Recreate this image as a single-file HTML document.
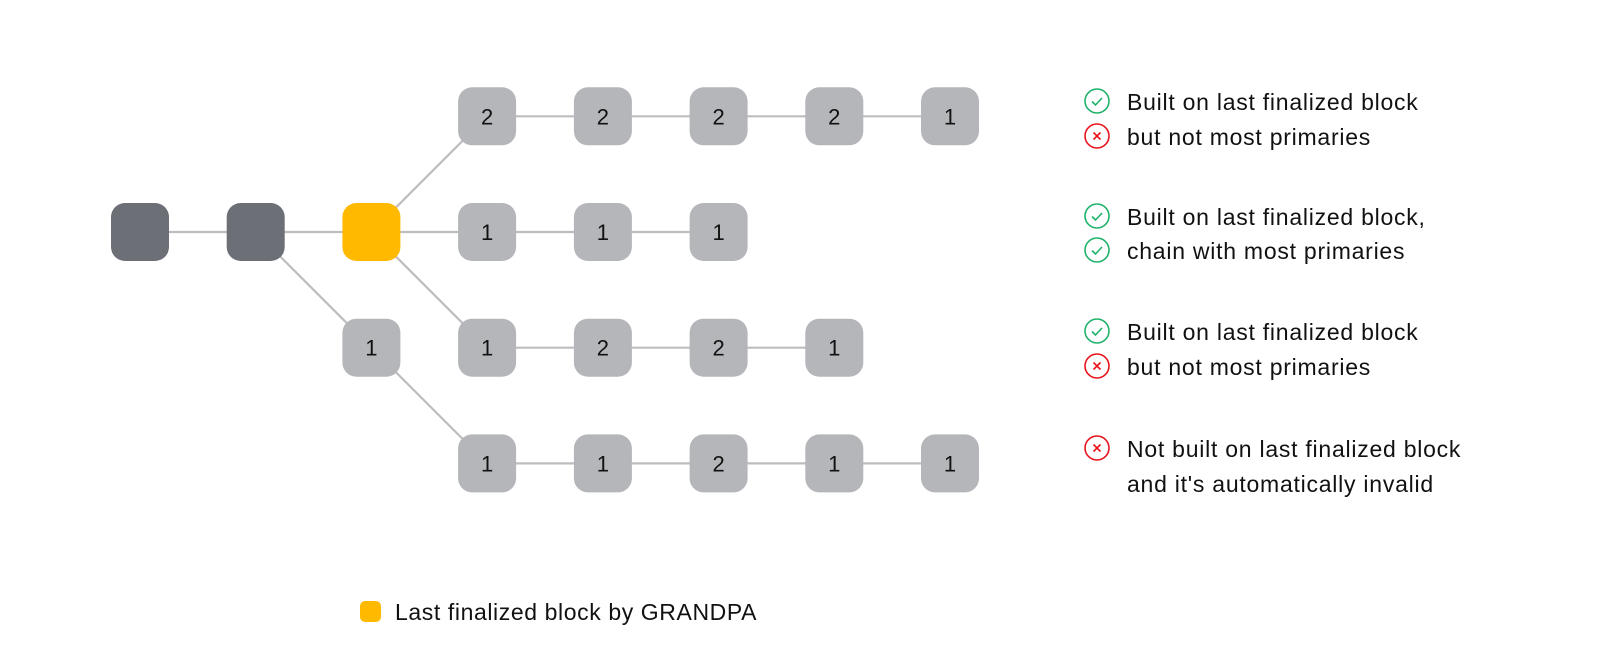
<!DOCTYPE html>
<html><head><meta charset="utf-8"><style>
body{margin:0;background:#fff;}
svg text{font-family:"Liberation Sans",sans-serif;}
</style></head><body>
<svg width="1600" height="665" viewBox="0 0 1600 665" xmlns="http://www.w3.org/2000/svg">
<g stroke="#bdbdbf" stroke-width="2.2" fill="none">
<line x1="140" y1="232" x2="718.6" y2="232"/>
<line x1="487.1" y1="116.3" x2="950" y2="116.3"/>
<line x1="487.1" y1="347.7" x2="834.3" y2="347.7"/>
<line x1="487.1" y1="463.4" x2="950" y2="463.4"/>
<line x1="371.4" y1="232" x2="487.1" y2="116.3"/>
<line x1="371.4" y1="232" x2="487.1" y2="347.7"/>
<line x1="255.7" y1="232" x2="371.4" y2="347.7"/>
<line x1="371.4" y1="347.7" x2="487.1" y2="463.4"/>
</g>
<g>
<rect x="111" y="203" width="58" height="58" rx="14" fill="#6c6f75"/>
<rect x="226.7" y="203" width="58" height="58" rx="14" fill="#6c6f75"/>
<rect x="342.4" y="203" width="58" height="58" rx="14" fill="#ffba00"/>
</g>
<g fill="#b5b6ba">
<rect x="458.1" y="87.3" width="58" height="58" rx="14"/><rect x="573.9" y="87.3" width="58" height="58" rx="14"/><rect x="689.6" y="87.3" width="58" height="58" rx="14"/><rect x="805.3" y="87.3" width="58" height="58" rx="14"/><rect x="921" y="87.3" width="58" height="58" rx="14"/>
<rect x="458.1" y="203" width="58" height="58" rx="14"/><rect x="573.9" y="203" width="58" height="58" rx="14"/><rect x="689.6" y="203" width="58" height="58" rx="14"/>
<rect x="342.4" y="318.7" width="58" height="58" rx="14"/><rect x="458.1" y="318.7" width="58" height="58" rx="14"/><rect x="573.9" y="318.7" width="58" height="58" rx="14"/><rect x="689.6" y="318.7" width="58" height="58" rx="14"/><rect x="805.3" y="318.7" width="58" height="58" rx="14"/>
<rect x="458.1" y="434.4" width="58" height="58" rx="14"/><rect x="573.9" y="434.4" width="58" height="58" rx="14"/><rect x="689.6" y="434.4" width="58" height="58" rx="14"/><rect x="805.3" y="434.4" width="58" height="58" rx="14"/><rect x="921" y="434.4" width="58" height="58" rx="14"/>
</g>
<g font-size="22" fill="#111" text-anchor="middle">
<text x="487.1" y="124.3">2</text><text x="602.9" y="124.3">2</text><text x="718.6" y="124.3">2</text><text x="834.3" y="124.3">2</text><text x="950" y="124.3">1</text>
<text x="487.1" y="240">1</text><text x="602.9" y="240">1</text><text x="718.6" y="240">1</text>
<text x="371.4" y="355.7">1</text><text x="487.1" y="355.7">1</text><text x="602.9" y="355.7">2</text><text x="718.6" y="355.7">2</text><text x="834.3" y="355.7">1</text>
<text x="487.1" y="471.4">1</text><text x="602.9" y="471.4">1</text><text x="718.6" y="471.4">2</text><text x="834.3" y="471.4">1</text><text x="950" y="471.4">1</text>
</g>
<defs>
<g id="ok"><circle r="12" fill="none" stroke="#1fb26b" stroke-width="1.6"/><path d="M-5,0.5 L-1.5,4 L5,-3" fill="none" stroke="#1fb26b" stroke-width="1.6"/></g>
<g id="no"><circle r="12" fill="none" stroke="#e8141b" stroke-width="1.6"/><path d="M-3.5,-3.5 L3.5,3.5 M3.5,-3.5 L-3.5,3.5" stroke="#e8141b" stroke-width="1.6"/></g>
</defs>
<use href="#ok" x="1097" y="101"/><use href="#no" x="1097" y="136"/>
<use href="#ok" x="1097" y="216"/><use href="#ok" x="1097" y="250"/>
<use href="#ok" x="1097" y="331"/><use href="#no" x="1097" y="366"/>
<use href="#no" x="1097" y="448"/>
<g font-size="23" fill="#111" letter-spacing="0.75">
<text x="1127" y="110">Built on last finalized block</text>
<text x="1127" y="145">but not most primaries</text>
<text x="1127" y="225">Built on last finalized block,</text>
<text x="1127" y="259">chain with most primaries</text>
<text x="1127" y="340">Built on last finalized block</text>
<text x="1127" y="375">but not most primaries</text>
<text x="1127" y="457">Not built on last finalized block</text>
<text x="1127" y="492">and it's automatically invalid</text>
<text x="395" y="620" letter-spacing="0.6">Last finalized block by GRANDPA</text>
</g>
<rect x="360" y="601" width="21" height="21" rx="5" fill="#ffba00"/>
</svg>
</body></html>
